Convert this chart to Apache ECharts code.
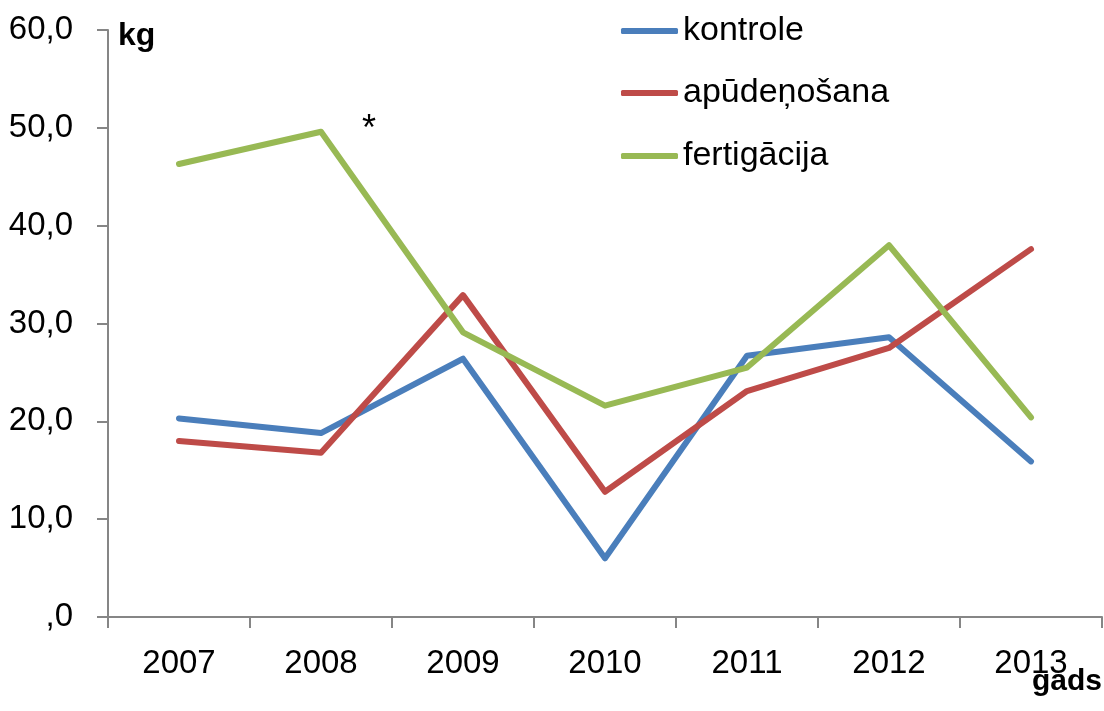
<!DOCTYPE html>
<html>
<head>
<meta charset="utf-8">
<script src="https://cdn.jsdelivr.net/npm/echarts@6/dist/echarts.min.js"></script>
<style>
html,body{margin:0;padding:0;background:#fff;}
#c{width:1104px;height:711px;}
</style>
</head>
<body>
<div id="c"></div>
<script>
const categories = ['2007','2008','2009','2010','2011','2012','2013'];
const kontrole = [20.3, 18.8, 26.4, 6.0, 26.7, 28.6, 15.9];
const apudenosana = [18.0, 16.8, 32.9, 12.8, 23.1, 27.5, 37.6];
const fertigacija = [46.3, 49.6, 29.1, 21.6, 25.5, 38.0, 20.4];
const seriesNames = ['kontrole', 'apūdeņošana', 'fertigācija'];
const colors = ['#4A7EBB', '#BE4B48', '#98B954'];

const chart = echarts.init(document.getElementById('c'));
const regular = "'Liberation Sans', sans-serif";

function legendFor(i, top) {
  return {
    data: [seriesNames[i]],
    left: 616,
    top: top,
    icon: 'roundRect',
    itemWidth: 57,
    itemHeight: 6,
    textStyle: { fontSize: 34, color: '#000', fontFamily: regular },
    selectedMode: false
  };
}

const datasets = [kontrole, apudenosana, fertigacija];

chart.setOption({
  animation: false,
  backgroundColor: '#fff',
  grid: { left: 108, right: 2, top: 30, bottom: 94, containLabel: false },
  legend: [legendFor(0, 9), legendFor(1, 71), legendFor(2, 134)],
  xAxis: {
    type: 'category',
    data: categories,
    boundaryGap: true,
    axisLine: { lineStyle: { color: '#868686', width: 2 } },
    axisTick: { show: true, length: 11, alignWithLabel: false, lineStyle: { color: '#868686', width: 2 } },
    axisLabel: { fontSize: 33, color: '#000', fontFamily: regular, margin: 30 },
    splitLine: { show: false }
  },
  yAxis: {
    type: 'value',
    min: 0, max: 60, interval: 10,
    axisLine: { show: true, lineStyle: { color: '#868686', width: 2 } },
    axisTick: { show: true, length: 11, lineStyle: { color: '#868686', width: 2 } },
    axisLabel: {
      fontSize: 33, color: '#000', fontFamily: regular, margin: 35,
      formatter: v => v === 0 ? ',0' : v.toFixed(1).replace('.', ',')
    },
    splitLine: { show: false }
  },
  graphic: [
    { type: 'text', left: 118, top: 20, style: { text: 'kg', font: "bold 32px 'Liberation Sans'", fill: '#000' } },
    { type: 'text', right: 2, top: 667, style: { text: 'gads', font: "bold 30px 'Liberation Sans'", fill: '#000' } },
    { type: 'text', left: 362, top: 112, style: { text: '*', font: "36px 'Liberation Sans'", fill: '#000' } }
  ],
  series: datasets.map((d, i) => ({
    name: seriesNames[i],
    type: 'line',
    data: d,
    symbol: 'none',
    showSymbol: false,
    lineStyle: { color: colors[i], width: 6, cap: 'round', join: 'round' },
    itemStyle: { color: colors[i] }
  }))
});
</script>
</body>
</html>
